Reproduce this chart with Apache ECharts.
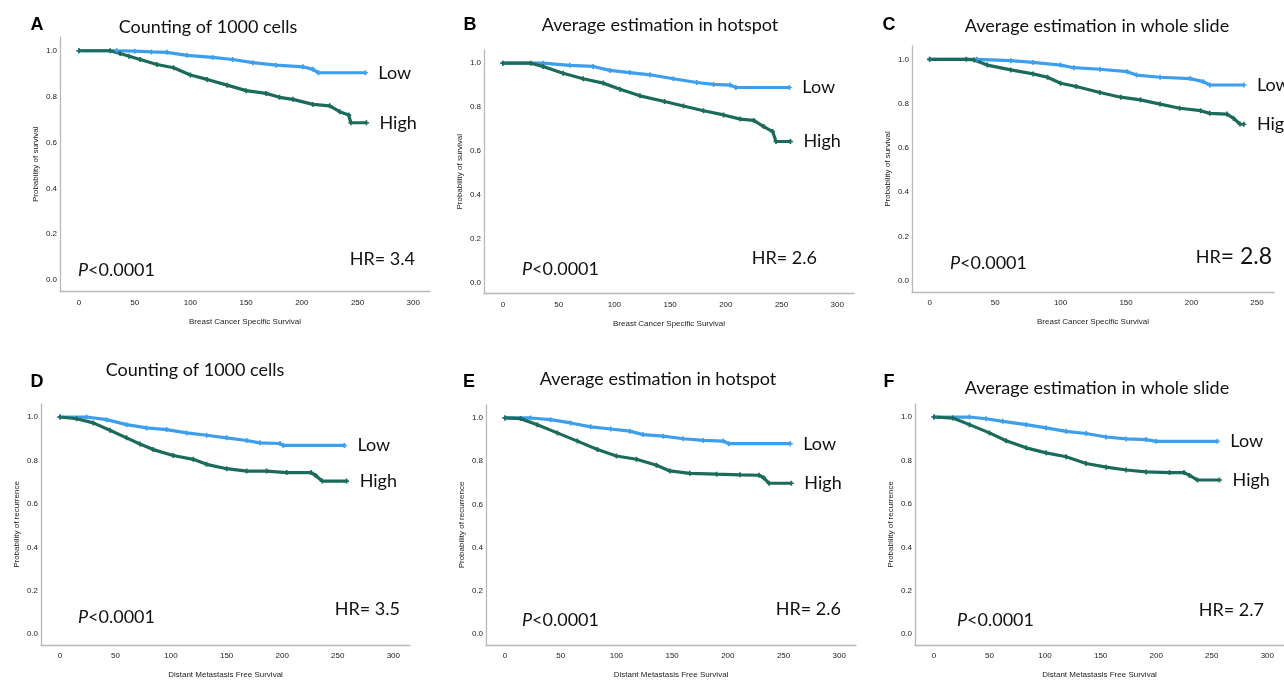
<!DOCTYPE html>
<html>
<head>
<meta charset="utf-8">
<script src="https://cdn.jsdelivr.net/npm/echarts@6.0.0/dist/echarts.min.js"></script>
<style>
  html, body { margin: 0; padding: 0; background: #fff; }
  #main { width: 1284px; height: 680px; }
</style>
</head>
<body>
<div id="main"></div>
<script>
// tick labels
var xTicks300 = [0, 50, 100, 150, 200, 250, 300];
var xTicks250 = [0, 50, 100, 150, 200, 250];
var yTicks = [0, 0.2, 0.4, 0.6, 0.8, 1.0];

// panel texts
var letters = ['A', 'B', 'C', 'D', 'E', 'F'];
var titles = ['Counting of 1000 cells', 'Average estimation in hotspot', 'Average estimation in whole slide',
              'Counting of 1000 cells', 'Average estimation in hotspot', 'Average estimation in whole slide'];
var hrValues = ['3.4', '2.6', '2.8', '3.5', '2.6', '2.7'];
var pText = '<0.0001';

// Kaplan-Meier curves, [time, probability]
var lowA = [[0,1],[34,1],[50,0.998],[65,0.995],[79,0.993],[97,0.98],[120,0.971],[138,0.962],[156,0.948],[177,0.937],[201,0.93],[210,0.919],[215,0.904],[257,0.904]];
var highA = [[0,1],[28,1],[37,0.988],[45,0.976],[55,0.962],[70,0.94],[85,0.926],[100,0.894],[115,0.875],[133,0.85],[150,0.826],[168,0.814],[180,0.797],[192,0.788],[210,0.766],[225,0.76],[234,0.734],[242,0.72],[244,0.686],[258,0.686]];

var lowB = [[0,1],[36,1],[60,0.99],[81,0.985],[96,0.967],[114,0.957],[132,0.947],[153,0.929],[174,0.912],[189,0.903],[204,0.9],[209,0.889],[257,0.889]];
var highB = [[0,1],[25,1],[36,0.985],[54,0.954],[72,0.929],[90,0.909],[105,0.881],[123,0.851],[145,0.825],[162,0.805],[180,0.783],[198,0.764],[213,0.745],[225,0.739],[234,0.711],[242,0.688],[245,0.643],[258,0.643]];

var lowC = [[0,1],[36,1],[62,0.994],[79,0.986],[100,0.974],[110,0.962],[130,0.955],[151,0.944],[158,0.929],[176,0.919],[199,0.913],[209,0.899],[214,0.884],[240,0.884]];
var highC = [[0,1],[28,1],[34,0.997],[44,0.974],[62,0.952],[79,0.934],[90,0.919],[100,0.892],[112,0.877],[130,0.85],[146,0.829],[161,0.817],[176,0.798],[191,0.779],[207,0.768],[214,0.756],[227,0.753],[232,0.734],[237,0.708],[240,0.707]];

var lowD = [[0,1],[24,1],[42,0.988],[60,0.965],[78,0.95],[96,0.942],[114,0.927],[132,0.916],[150,0.904],[168,0.892],[180,0.881],[198,0.878],[201,0.869],[256,0.869]];
var highD = [[0,1],[15,0.992],[30,0.973],[45,0.939],[60,0.904],[72,0.876],[84,0.85],[102,0.823],[120,0.805],[132,0.782],[150,0.762],[168,0.751],[186,0.751],[204,0.744],[226,0.744],[230,0.731],[236,0.705],[258,0.705]];

var lowE = [[0,1],[23,1],[41,0.992],[59,0.977],[77,0.959],[95,0.949],[112,0.939],[124,0.923],[142,0.916],[160,0.904],[178,0.896],[196,0.893],[201,0.881],[256,0.881]];
var highE = [[0,1],[14,0.997],[29,0.969],[47,0.931],[65,0.893],[83,0.854],[100,0.824],[118,0.809],[136,0.781],[148,0.755],[166,0.744],[190,0.74],[211,0.737],[228,0.735],[232,0.724],[237,0.698],[257,0.698]];

var lowF = [[0,1],[32,1],[47,0.992],[62,0.98],[83,0.965],[101,0.95],[119,0.934],[137,0.924],[155,0.908],[173,0.899],[191,0.896],[200,0.888],[255,0.888]];
var highF = [[0,1],[17,0.995],[32,0.965],[50,0.927],[65,0.891],[83,0.858],[101,0.835],[119,0.817],[137,0.786],[155,0.769],[173,0.756],[191,0.747],[212,0.744],[225,0.744],[230,0.731],[237,0.71],[257,0.71]];

var lowCurves = [lowA, lowB, lowC, lowD, lowE, lowF];
var highCurves = [highA, highB, highC, highD, highE, highF];

// layout of each panel (pixels)
var layout = [
  { grid: {left: 60,  top: 37,  width: 370, height: 254.5}, xMin: -17,   xMax: 315, ticks: xTicks300,
    letter: [37, 25],  title: [208, 27],  p: [78, 270],  hr: [415, 259] },
  { grid: {left: 484, top: 50,  width: 370, height: 243.5}, xMin: -17,   xMax: 315, ticks: xTicks300,
    letter: [470, 25], title: [660, 25],  p: [522, 269], hr: [817, 258] },
  { grid: {left: 912, top: 46,  width: 362, height: 246},   xMin: -13.5, xMax: 263, ticks: xTicks250,
    letter: [889, 25], title: [1097, 26], p: [950, 263], hr: [1272, 257] },
  { grid: {left: 41,  top: 404, width: 369, height: 242.4}, xMin: -17,   xMax: 315, ticks: xTicks300,
    letter: [37, 382], title: [195, 370], p: [78, 617],  hr: [400, 609] },
  { grid: {left: 486, top: 405, width: 370, height: 241.6}, xMin: -17,   xMax: 315, ticks: xTicks300,
    letter: [469, 382], title: [658, 379], p: [522, 620], hr: [841, 609] },
  { grid: {left: 915, top: 404, width: 370, height: 242.4}, xMin: -17,   xMax: 315, ticks: xTicks300,
    letter: [889, 382], title: [1097, 388], p: [957, 620], hr: [1264, 610] }
];

var LOW_COLOR = '#3d9fec';
var HIGH_COLOR = '#1b6b5c';
var AXIS_COLOR = '#b9b9b9';
var TICK_FONT = '"Liberation Sans", Arial, sans-serif';
var TEXT_FONT = 'Lato';
var plus = 'path://M-1,-3H1V-1H3V1H1V3H-1V1H-3V-1H-1Z';

var chart = echarts.init(document.getElementById('main'));

var grids = [], xAxes = [], yAxes = [], series = [], graphics = [];

layout.forEach(function (p, i) {
  var top = i < 3;
  grids.push(p.grid);
  xAxes.push({
    type: 'value', gridIndex: i, min: p.xMin, max: p.xMax,
    name: top ? 'Breast Cancer Specific Survival' : 'Distant Metastasis Free Survival',
    nameLocation: 'middle', nameGap: 26,
    nameTextStyle: { fontFamily: TICK_FONT, fontSize: 8, color: '#222' },
    axisLine: { onZero: false, lineStyle: { color: AXIS_COLOR, width: 1.3 } },
    axisTick: { show: false },
    splitLine: { show: false },
    axisLabel: { customValues: p.ticks, margin: 7, fontFamily: TICK_FONT, fontSize: 8, color: '#222' }
  });
  yAxes.push({
    type: 'value', gridIndex: i, min: -0.05, max: 1.06,
    name: top ? 'Probability of survival' : 'Probability of recurrence',
    nameLocation: 'middle', nameGap: 20,
    nameTextStyle: { fontFamily: TICK_FONT, fontSize: 8, color: '#222' },
    axisLine: { show: true, onZero: false, lineStyle: { color: AXIS_COLOR, width: 1.3 } },
    axisTick: { show: false },
    splitLine: { show: false },
    axisLabel: { customValues: yTicks, margin: 3, fontFamily: TICK_FONT, fontSize: 8, color: '#222',
                 formatter: function (v) { return v.toFixed(1); } }
  });

  [['Low', lowCurves[i], LOW_COLOR], ['High', highCurves[i], HIGH_COLOR]].forEach(function (s) {
    series.push({
      name: s[0], type: 'line', xAxisIndex: i, yAxisIndex: i,
      data: s[1],
      symbol: plus, symbolSize: 5, showAllSymbol: true,
      itemStyle: { color: s[2] },
      lineStyle: { color: s[2], width: 3.2 },
      endLabel: { show: true, formatter: '{a}', distance: 13,
                  fontFamily: TEXT_FONT, fontSize: 18, color: '#111' },
      silent: true
    });
  });

  graphics.push({
    type: 'text', x: p.letter[0], y: p.letter[1],
    style: { text: letters[i], font: 'bold 18px "Liberation Sans"', fill: '#000',
             align: 'center', verticalAlign: 'middle' }
  });
  graphics.push({
    type: 'text', x: p.title[0], y: p.title[1],
    style: { text: titles[i], font: '18px ' + TEXT_FONT, fill: '#111',
             align: 'center', verticalAlign: 'middle' }
  });
  graphics.push({
    type: 'text', x: p.p[0], y: p.p[1],
    style: { text: '{i|P}' + pText, font: '18px ' + TEXT_FONT, fill: '#111',
             align: 'left', verticalAlign: 'middle',
             rich: { i: { fontStyle: 'italic', fontFamily: TEXT_FONT, fontSize: 18, fill: '#111' } } }
  });
  graphics.push({
    type: 'text', x: p.hr[0], y: p.hr[1],
    style: i === 2
      ? { text: 'HR{b|= ' + hrValues[i] + '}', font: '18px ' + TEXT_FONT, fill: '#111',
          align: 'right', verticalAlign: 'middle',
          rich: { b: { fontFamily: TEXT_FONT, fontSize: 23, fill: '#111' } } }
      : { text: 'HR= ' + hrValues[i], font: '18px ' + TEXT_FONT, fill: '#111',
          align: 'right', verticalAlign: 'middle' }
  });
});

chart.setOption({
  animation: false,
  backgroundColor: '#fff',
  grid: grids,
  xAxis: xAxes,
  yAxis: yAxes,
  series: series,
  graphic: graphics
});
</script>
</body>
</html>
